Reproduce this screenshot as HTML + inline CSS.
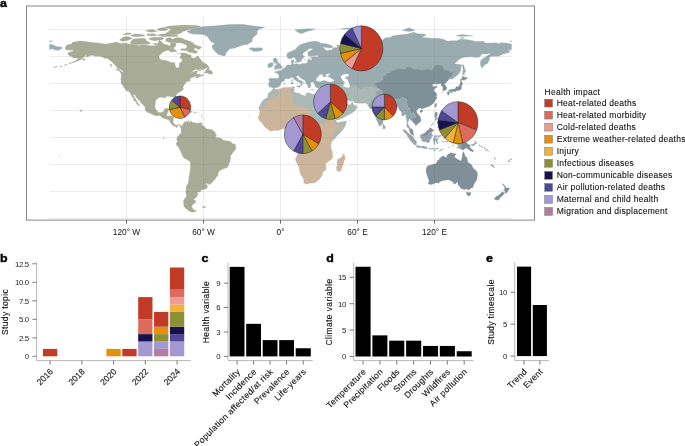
<!DOCTYPE html>
<html lang="en"><head><meta charset="utf-8"><title>Figure</title>
<style>html,body{margin:0;padding:0;background:#fff}svg{display:block}</style></head>
<body>
<svg width="685" height="446" viewBox="0 0 685 446" font-family='"Liberation Sans", sans-serif'>
<rect width="685" height="446" fill="#fff"/>
<clipPath id="cp"><rect x="26.5" y="6.0" width="508.0" height="214.1"/></clipPath>
<g clip-path="url(#cp)">
<path d="M126.50 16.00V220.1M203.50 16.00V220.1M280.50 16.00V220.1M357.50 16.00V220.1M434.50 16.00V220.1M49.50 29.50H511.50M49.50 56.50H511.50M49.50 83.50H511.50M49.50 110.50H511.50M49.50 137.50H511.50M49.50 164.50H511.50M49.50 191.50H511.50M49.50 218.50H511.50" stroke="#f6f6f6" stroke-width="1" fill="none" opacity="1"/>
<path fill="#a8ab96" stroke="#a8ab96" stroke-width="0.3" stroke-linejoin="round" d="M64.9 48.6L66.8 45.0L71.3 44.0L72.7 42.3L79.5 40.9L85.4 41.6L90.6 42.2L99.6 43.2L106.0 44.2L108.5 43.4L113.7 42.7L116.2 42.0L120.1 43.4L125.2 43.0L130.4 44.2L134.2 45.1L139.3 45.5L141.9 44.7L145.8 44.9L149.6 45.7L154.7 45.7L157.3 45.1L157.9 43.4L159.2 40.1L161.8 42.0L163.1 43.4L165.0 44.5L167.6 45.0L170.1 46.1L170.8 43.0L175.3 43.0L176.2 44.7L174.6 47.4L170.1 48.1L168.9 50.1L165.0 51.1L161.2 53.5L159.0 56.2L159.0 57.8L161.8 60.2L165.0 60.2L168.9 61.6L171.4 62.5L174.9 62.8L175.0 65.6L176.6 67.7L178.2 68.1L179.4 66.3L179.1 63.6L181.7 61.6L182.3 59.6L179.8 57.8L181.0 55.5L180.4 53.0L185.5 53.1L188.7 54.6L191.1 55.0L191.3 57.5L193.2 58.5L195.8 57.5L197.7 55.7L200.3 58.9L201.6 60.9L203.5 62.7L206.7 64.3L208.6 66.3L209.0 67.5L206.1 68.1L203.5 69.4L198.4 69.4L195.2 69.4L192.0 71.5L189.4 73.9L192.6 71.9L197.1 70.8L198.0 71.5L196.4 72.7L197.5 74.3L198.4 75.1L201.6 75.4L203.5 73.9L203.8 75.1L201.6 76.2L199.0 77.0L196.2 78.5L195.5 77.4L197.3 75.8L194.5 76.4L193.9 77.0L192.0 77.8L190.3 78.3L189.6 79.7L190.7 80.8L188.7 81.3L185.8 82.1L185.5 82.8L185.1 83.9L184.2 84.7L183.6 85.9L183.0 87.2L183.4 89.1L182.3 90.4L180.4 91.4L178.7 92.6L176.8 94.0L176.0 95.6L176.3 97.4L177.2 99.1L177.7 101.4L177.3 103.2L176.3 103.2L175.5 101.8L174.4 99.7L174.4 98.0L173.1 96.7L171.4 97.1L169.5 96.2L167.6 96.2L165.6 96.4L165.9 97.9L164.4 97.8L162.4 97.2L159.9 97.2L158.2 98.2L156.0 99.7L155.5 102.1L155.1 104.8L155.0 107.1L155.8 109.3L157.3 111.3L158.8 112.4L161.2 112.4L162.7 112.1L164.1 110.9L164.5 108.8L166.9 108.2L168.9 108.2L169.1 109.1L168.2 110.9L167.8 112.5L167.2 113.6L166.5 115.6L167.6 115.9L169.5 115.9L171.4 115.7L173.5 116.7L173.7 117.1L173.3 119.6L173.1 121.7L173.2 122.6L174.2 124.0L175.5 125.0L176.8 125.3L178.1 124.5L179.4 124.4L181.2 125.5L181.9 126.4L183.5 123.3L184.2 122.5L185.3 122.1L186.8 121.7L188.4 120.5L189.0 121.3L188.2 122.2L188.6 123.0L190.3 121.7L190.7 120.7L192.0 121.7L192.8 122.6L195.4 122.9L197.1 123.6L198.6 123.0L200.9 122.8L201.2 123.7L202.2 124.6L202.5 125.6L203.8 126.1L205.4 127.7L207.0 129.1L209.3 129.2L211.2 129.4L213.1 130.4L214.3 131.4L215.1 133.1L216.3 134.8L216.3 136.3L215.1 137.2L216.3 137.5L218.3 137.6L218.9 138.1L220.2 138.1L222.1 139.1L223.6 140.6L225.3 140.4L227.2 141.1L229.2 141.1L231.1 142.2L232.8 143.7L235.2 144.2L235.6 146.0L235.8 147.3L235.6 149.3L234.3 151.1L233.0 152.3L231.7 154.5L230.5 155.4L230.5 158.1L230.2 160.8L229.6 162.2L228.9 164.2L227.9 166.6L226.6 168.1L224.7 168.2L222.8 169.1L220.8 169.9L218.9 171.4L218.1 173.0L218.0 175.4L216.6 176.8L215.3 179.0L213.6 180.7L212.0 182.8L210.0 184.3L208.4 184.3L206.1 183.1L205.6 183.9L207.1 185.3L207.7 186.5L206.6 188.5L204.1 189.6L200.9 189.7L200.5 191.9L197.3 192.3L197.0 193.2L198.6 194.3L197.1 195.2L196.4 197.5L194.1 198.6L193.9 200.0L196.1 200.9L195.8 202.0L193.6 204.0L192.0 205.4L191.7 207.0L192.7 207.9L192.8 208.5L193.9 210.1L196.8 211.0L195.2 211.6L193.2 212.0L191.3 211.9L188.7 210.8L187.5 209.4L185.5 208.5L184.2 206.7L183.7 204.7L183.6 202.0L183.5 200.4L184.9 198.6L186.2 196.6L186.8 194.6L185.8 193.6L185.9 191.2L186.3 189.2L186.0 187.4L187.2 185.1L188.5 182.4L188.7 179.7L188.9 177.0L189.5 174.3L190.0 171.6L190.2 168.9L190.5 165.5L190.3 162.0L188.9 160.7L186.8 159.5L184.0 158.0L182.6 156.0L181.6 153.5L180.4 151.1L179.1 148.3L178.0 146.4L176.4 145.3L176.2 143.3L177.4 141.8L178.0 140.7L176.7 140.2L176.8 138.5L177.7 137.1L177.8 136.1L179.2 135.3L179.8 133.8L181.0 133.7L181.4 131.9L181.0 129.8L181.2 128.2L180.5 127.5L180.0 126.5L180.1 125.9L179.2 125.0L178.5 125.0L177.4 126.0L177.8 127.1L176.7 127.5L175.8 126.7L174.1 126.1L173.1 125.7L171.7 124.0L170.4 123.0L170.5 122.2L169.4 120.7L168.1 119.6L166.5 119.2L165.0 118.7L163.1 118.2L162.0 117.5L160.1 115.7L158.8 115.3L156.9 116.0L154.7 115.3L152.4 114.5L150.0 113.2L147.7 112.5L146.0 111.1L145.0 109.7L145.4 108.2L144.5 106.3L142.5 104.3L140.9 102.8L140.0 101.0L138.7 99.9L137.4 98.7L136.0 97.0L135.2 95.1L133.4 94.4L133.3 95.8L134.8 97.8L135.9 99.7L137.4 102.1L138.4 103.9L140.0 105.7L139.5 106.3L138.3 105.2L136.6 103.9L136.4 102.1L134.5 100.9L133.2 99.7L133.9 98.5L132.3 97.0L131.2 95.3L130.2 93.3L129.7 92.1L128.4 91.3L125.9 90.6L125.5 89.4L124.1 87.8L123.3 86.3L122.7 85.5L121.6 83.9L121.0 82.7L121.2 80.8L120.7 79.4L121.2 77.8L121.4 75.1L120.6 72.7L120.5 71.9L122.7 72.0L123.3 73.1L122.9 71.0L122.3 70.5L120.3 69.3L117.5 68.3L116.5 66.7L115.0 65.0L113.3 63.6L113.0 62.3L111.5 61.6L109.2 60.0L107.9 58.6L105.3 58.5L103.4 57.5L101.1 56.6L98.3 56.2L95.7 56.2L93.1 55.3L90.3 55.5L88.3 56.6L85.8 57.3L86.1 55.5L88.0 54.6L85.8 55.0L84.8 56.2L83.5 57.3L82.6 58.5L80.3 59.7L77.7 60.9L75.2 62.0L72.6 62.8L69.4 63.4L71.3 62.7L73.2 61.7L75.2 60.9L77.1 59.6L78.4 58.2L76.7 58.1L74.5 57.8L72.6 58.0L72.6 56.5L70.0 56.3L68.4 54.8L67.5 53.8L68.8 52.4L69.4 51.9L72.6 51.5L73.9 50.4L71.6 50.3L69.0 50.1L66.8 49.9ZM69.0 63.5L70.7 63.1L70.7 63.6L68.8 64.0ZM64.3 65.0L66.8 64.3L67.1 64.8L64.6 65.5ZM59.8 66.3L62.3 65.8L62.3 66.2L59.8 66.7ZM53.4 67.1L57.2 66.6L57.2 67.0L53.4 67.5ZM82.2 59.6L84.8 58.6L85.4 59.6L83.5 60.4ZM171.5 107.6L174.0 106.1L175.9 106.0L177.8 106.3L180.4 107.1L183.0 108.6L185.3 109.9L184.2 110.3L180.8 110.5L181.4 109.4L179.8 108.8L177.8 107.9L175.5 107.2L173.3 107.2ZM185.0 112.4L186.3 110.5L187.2 110.3L188.5 110.5L190.7 110.6L191.7 111.3L192.7 112.1L192.0 112.4L190.0 112.6L188.7 113.3L187.5 112.6L185.8 112.8ZM180.0 112.5L181.7 112.2L182.7 112.9L181.4 113.2L180.1 112.9ZM194.3 112.2L196.2 112.4L196.1 112.9L194.3 112.9ZM201.1 122.8L202.3 122.6L202.2 123.6L201.1 123.6ZM180.1 101.2L181.4 101.3L180.7 103.2L180.1 103.2L180.5 104.4L181.0 104.4ZM201.2 114.9L202.0 115.1L201.6 115.7ZM201.6 116.1L202.0 116.5L201.7 116.7ZM202.0 117.1L202.5 117.5L202.1 117.8ZM202.1 118.2L202.3 118.6L202.1 118.7ZM203.9 119.2L204.3 119.5L204.0 119.6ZM201.2 120.7L201.4 120.9L201.2 121.0ZM197.2 112.4L197.6 112.4L197.5 112.5ZM199.5 112.8L199.8 112.8L199.7 112.9ZM201.1 114.0L201.3 114.1L201.1 114.2ZM199.9 113.7L200.2 113.8L199.9 114.0ZM204.4 72.9L205.4 71.0L207.4 68.6L208.8 67.5L209.3 69.0L208.6 69.8L211.2 70.5L212.2 71.7L212.7 73.1L212.1 74.2L210.6 73.9L208.9 73.9L208.0 73.1L206.1 72.9ZM197.7 69.8L200.9 70.5L201.2 70.9L198.4 70.4ZM198.0 74.0L200.9 74.4L200.3 75.1L198.4 74.7ZM115.8 68.8L118.8 69.2L120.1 70.0L122.0 71.7L121.4 71.9L119.4 71.2L117.5 70.0L116.2 69.4ZM109.8 64.2L111.4 64.3L112.1 66.7L110.7 65.9ZM176.6 37.7L181.7 38.0L184.2 39.6L188.1 40.8L192.0 42.0L193.9 44.0L197.1 45.7L200.9 46.7L201.6 47.4L199.0 49.4L197.1 48.8L194.5 47.7L193.9 49.4L197.1 51.5L197.5 52.6L195.2 53.5L192.6 52.8L189.4 52.3L186.2 50.4L183.0 50.4L180.4 49.7L181.0 48.8L185.5 48.8L186.8 47.4L186.8 45.4L184.2 44.0L180.4 42.7L179.1 43.0L175.9 42.7L172.1 42.7L168.9 42.3L166.3 41.3L165.3 40.0L166.9 38.0L170.8 37.7L172.1 39.3ZM130.4 42.0L132.9 39.3L135.5 38.8L139.3 38.6L145.1 38.4L146.4 40.7L150.2 42.7L149.6 44.0L145.8 44.3L141.9 44.2L135.5 44.7L131.0 44.0ZM119.4 40.1L122.0 37.7L125.2 36.6L129.7 37.0L132.3 38.2L129.1 40.0L125.9 40.8L122.7 41.3ZM165.0 33.9L168.9 31.2L171.4 29.2L163.7 27.2L170.1 26.1L184.2 25.0L197.1 25.4L200.9 26.5L197.1 27.8L190.7 28.9L186.8 30.3L183.0 31.5L180.4 33.2L177.8 34.3L171.4 34.2ZM157.3 29.2L162.4 27.6L168.2 28.9L166.3 30.5L161.2 30.8L157.3 29.9ZM157.3 35.3L162.4 33.8L171.4 34.6L177.8 35.1L177.2 36.5L170.1 36.6L162.4 36.4ZM130.4 35.3L135.5 34.1L140.6 34.2L144.5 34.9L144.5 36.1L139.3 36.4L134.2 36.8ZM149.6 38.0L154.7 37.3L161.2 37.2L164.4 38.0L162.4 39.7L158.6 40.0L156.0 40.7L152.8 40.4L149.0 39.1ZM168.9 49.0L172.7 47.8L175.9 50.4L177.2 51.5L174.0 51.7L170.8 51.9L168.9 50.8ZM147.0 33.9L154.7 33.8L157.3 35.5L152.2 36.1L147.0 35.3ZM122.7 34.2L127.8 32.8L131.6 33.2L129.1 34.6L123.9 34.7ZM152.8 44.0L156.0 43.0L157.9 44.0L156.0 44.7ZM145.8 30.5L152.2 29.5L157.3 31.2L152.2 32.2L147.0 31.6ZM177.8 37.7L183.0 38.4L180.4 39.1L177.2 38.8ZM177.8 53.1L178.7 53.0L178.5 53.9L177.6 53.8ZM202.0 207.1L204.8 206.5L206.3 206.9L204.1 207.8ZM163.1 137.7L164.0 137.6L163.8 138.5L163.2 138.5ZM80.3 109.9L81.6 110.3L81.5 111.3L80.4 111.4ZM77.5 108.0L78.1 108.2L78.0 108.6Z"/>
<path fill="#9bacb0" stroke="#9bacb0" stroke-width="0.3" stroke-linejoin="round" d="M186.8 31.6L193.2 28.5L203.5 26.5L216.3 25.8L229.2 24.6L242.0 24.3L252.3 25.8L265.1 27.2L258.7 29.2L256.8 31.9L257.4 33.9L254.8 35.9L252.3 38.6L252.3 41.3L250.3 42.7L247.1 44.6L242.0 45.3L238.2 46.7L234.3 48.2L229.8 48.8L227.9 50.8L226.0 52.8L225.3 55.5L224.0 56.3L221.5 55.3L218.3 54.6L216.3 52.8L214.4 50.8L212.5 48.1L211.8 46.1L215.1 43.4L211.2 42.0L209.9 40.0L207.4 36.6L203.5 34.6L197.1 34.3L192.0 33.9L189.4 32.8ZM249.3 48.6L251.6 47.6L254.8 48.1L258.7 47.7L261.2 47.8L263.0 49.0L261.2 50.4L257.4 51.5L254.2 51.3L251.6 50.8L252.3 49.7L249.7 49.6ZM273.3 88.6L272.3 87.5L271.0 87.0L269.1 87.2L269.2 85.4L268.3 84.8L269.1 82.9L269.3 80.6L268.6 79.1L270.2 78.2L273.1 78.3L275.6 78.5L278.2 78.6L279.0 77.0L279.1 75.4L277.7 73.7L276.9 73.1L274.7 72.5L274.5 71.7L276.6 71.3L278.4 71.5L278.2 70.1L279.0 70.5L280.8 70.4L282.4 69.4L282.7 68.5L284.4 67.9L285.6 67.1L286.5 65.6L288.2 65.0L289.5 65.0L291.4 64.8L291.7 63.6L291.2 62.3L291.0 60.5L292.7 60.0L294.1 59.3L293.7 60.9L294.4 61.2L293.3 62.3L292.9 63.2L294.4 64.3L295.9 64.0L297.8 63.8L298.9 64.4L301.0 63.9L304.0 63.2L305.5 63.8L306.2 63.1L307.5 62.5L307.5 60.5L308.3 59.4L309.5 59.3L310.3 60.2L311.7 60.0L311.8 58.5L310.7 57.8L310.7 57.3L313.2 56.7L316.4 56.9L319.3 56.3L317.1 55.5L313.9 55.7L310.0 56.3L308.1 55.4L307.8 53.8L307.8 52.1L309.4 51.2L311.9 49.7L313.0 48.8L311.0 48.4L308.7 48.8L307.8 50.1L305.5 51.5L303.3 52.8L302.6 54.8L303.0 55.5L304.6 56.3L303.6 57.7L301.9 58.9L301.5 60.7L300.8 61.5L298.9 62.1L297.1 62.4L296.7 61.2L295.6 59.6L294.9 57.7L294.0 56.9L292.7 57.7L290.8 58.8L288.8 58.8L287.6 57.8L286.9 56.2L286.9 54.2L287.3 53.2L289.5 52.1L291.4 51.3L293.3 50.5L295.3 49.4L296.5 48.1L297.8 46.5L299.1 45.4L301.0 44.3L303.6 43.4L306.2 42.7L309.4 41.9L313.2 41.2L316.4 41.3L319.6 42.3L320.3 43.0L322.9 43.5L326.7 43.8L331.8 45.7L333.4 47.0L331.8 47.8L329.3 48.0L325.4 47.3L322.9 47.0L324.8 48.8L325.2 50.1L328.0 50.8L329.3 50.1L331.8 50.0L332.5 48.8L334.4 47.6L337.0 47.8L337.2 46.1L336.7 44.7L339.5 45.4L340.2 46.9L342.1 45.9L344.7 45.1L348.5 44.6L350.4 45.0L353.7 44.6L356.2 44.2L358.1 43.1L363.3 43.8L366.5 44.3L368.4 45.1L369.1 44.0L366.5 43.1L366.5 41.3L368.4 39.3L370.3 38.2L373.5 38.9L373.8 40.9L373.5 43.4L374.8 44.7L373.5 46.7L372.9 47.7L375.5 47.0L376.8 45.4L376.1 43.4L375.2 41.3L376.8 39.3L380.0 39.7L383.2 40.0L384.5 38.0L390.9 37.3L392.2 35.9L398.6 34.9L406.3 34.2L414.0 32.3L417.8 33.7L424.2 33.9L426.2 35.3L421.7 37.3L425.5 37.7L431.9 38.2L438.4 38.2L443.5 39.3L446.1 40.7L448.6 41.3L451.2 40.7L456.3 40.8L460.2 39.3L466.6 39.6L473.0 40.7L475.6 41.5L483.3 41.3L485.8 43.1L491.0 43.1L496.1 42.8L499.3 44.0L500.0 42.7L506.4 43.0L511.5 44.0L511.5 49.4L509.6 50.0L508.3 49.9L510.2 52.1L507.7 52.8L503.8 53.8L500.0 55.5L498.7 56.2L493.5 56.3L490.3 56.5L489.0 58.9L490.1 59.3L488.4 61.2L488.1 62.9L485.8 64.3L483.9 65.6L482.0 68.1L481.3 67.0L480.3 64.3L480.3 61.6L482.0 59.2L484.6 57.5L487.8 55.5L491.0 52.8L486.5 53.9L482.0 53.9L479.4 56.9L475.6 57.5L471.7 56.7L466.6 57.1L462.7 57.5L458.9 59.6L456.3 62.3L454.4 63.5L457.0 64.3L460.2 64.3L461.8 65.6L460.8 67.7L460.8 69.7L460.2 72.0L458.2 74.4L455.7 76.4L454.4 77.8L451.8 79.3L449.9 78.9L448.2 80.1L444.8 81.8L439.6 83.2L431.9 84.5L421.7 85.9L408.8 87.2L396.0 88.6L383.2 89.9L376.8 89.9L372.9 91.3L360.1 92.6L347.2 89.9L340.8 89.9L337.0 89.9L331.8 89.9L327.0 88.7L326.7 87.7L324.8 87.7L322.9 88.5L321.6 87.9L319.8 87.5L318.4 88.3L316.4 87.7L315.5 86.6L314.5 85.2L315.2 84.1L314.1 83.9L314.1 83.2L313.9 82.3L311.3 82.1L311.0 83.2L309.8 82.7L310.4 84.3L311.3 85.6L310.3 86.0L310.1 87.9L309.2 87.9L308.3 87.5L307.7 86.2L307.5 84.8L306.4 83.7L305.4 82.5L305.5 81.0L304.2 80.0L302.3 79.1L300.4 77.9L299.5 76.4L298.1 75.6L296.4 76.0L296.4 77.5L298.0 78.5L298.7 80.0L301.0 80.6L302.3 81.8L304.2 82.9L304.0 83.5L302.3 82.5L301.8 83.7L302.4 84.5L301.7 85.4L300.6 86.0L300.8 85.0L301.2 84.1L300.5 83.2L299.1 82.3L297.2 81.6L295.9 80.6L294.6 79.8L293.8 78.6L293.1 77.7L291.8 77.3L290.1 78.1L288.5 79.0L286.7 78.6L285.0 78.7L284.5 80.0L284.6 80.6L283.2 81.4L281.5 82.1L280.1 83.9L280.8 84.8L279.6 86.0L278.4 87.0L277.5 87.5L274.9 87.7L273.7 88.5ZM49.5 44.0L53.4 45.0L57.2 46.7L61.0 47.0L62.6 48.0L59.8 49.4L58.5 50.4L54.6 49.7L52.1 48.8L49.5 49.4ZM509.6 41.1L511.5 40.7L511.5 41.5L509.8 41.6ZM49.5 40.7L52.7 40.9L52.1 41.5L49.5 41.5ZM273.8 69.7L276.0 69.3L279.2 68.8L282.2 68.1L281.4 67.7L282.7 66.2L280.9 65.6L280.2 64.3L278.6 62.9L277.9 61.7L276.6 61.6L277.9 59.6L276.0 59.3L276.4 58.1L274.1 58.1L273.1 59.6L273.4 61.3L274.3 62.3L274.1 63.2L276.0 63.1L276.6 64.3L276.6 65.2L274.7 65.2L275.0 66.6L273.8 67.3L276.0 67.8L274.7 68.3ZM267.7 67.5L269.6 67.5L272.4 66.7L272.8 65.2L273.4 63.6L272.2 62.7L270.2 62.7L269.6 63.6L267.7 64.0L268.3 65.4L267.7 66.7ZM294.6 29.9L301.0 29.2L308.7 28.8L315.2 29.1L311.3 30.5L307.5 31.2L304.2 32.6L301.7 33.7L298.5 32.6L295.9 30.8ZM346.6 40.4L348.5 38.6L351.1 36.6L354.9 34.9L361.4 33.9L368.4 33.4L365.2 34.9L357.5 36.6L354.3 38.6L353.0 40.9L349.8 41.6ZM402.4 30.3L408.8 27.8L415.3 30.5L408.8 31.6ZM340.8 28.8L347.2 28.1L357.5 27.8L354.9 28.9L344.7 29.2ZM456.3 35.5L462.7 34.6L467.9 35.3L473.0 35.9L465.3 36.2L458.9 36.4ZM462.7 37.6L464.7 38.0L461.5 38.4L460.2 38.0ZM342.7 43.4L344.7 43.8L343.4 44.5L342.5 44.0ZM462.7 63.9L464.0 65.6L464.4 68.3L465.9 71.0L464.0 73.7L464.7 74.8L462.7 75.1L462.7 72.4L463.0 69.7L462.5 67.0L462.7 65.0ZM296.5 85.9L300.4 85.6L300.0 87.5L297.2 86.8ZM291.2 82.1L292.7 81.7L292.9 83.9L292.1 84.5L291.3 84.1ZM291.7 79.8L292.7 79.4L292.4 81.2L291.7 80.8ZM310.7 89.3L314.1 89.7L311.9 89.9ZM322.0 89.9L322.9 89.4L324.8 89.1L324.1 89.9L322.9 90.5ZM283.6 83.7L284.9 83.3L284.6 84.1ZM294.6 62.0L296.5 61.6L296.3 62.9L294.9 62.8ZM303.9 60.2L304.9 59.0L304.6 60.0ZM308.7 58.2L310.0 58.1L309.4 58.9Z"/>
<path fill="#cbb59d" stroke="#cbb59d" stroke-width="0.3" stroke-linejoin="round" d="M272.9 88.9L273.7 88.7L276.6 89.5L277.7 89.8L279.2 89.0L281.1 88.3L284.4 87.4L286.9 87.5L289.5 87.2L291.5 87.4L293.3 86.8L294.6 87.2L294.0 88.6L294.4 89.9L293.3 91.0L294.6 92.4L296.5 92.9L299.8 93.6L300.4 94.7L303.0 95.5L304.9 96.3L306.2 95.3L306.2 93.6L308.1 92.8L310.0 93.2L312.6 94.4L315.2 94.9L317.7 95.5L320.3 94.7L322.0 95.1L322.3 96.8L322.5 98.3L323.7 100.1L324.8 102.1L326.1 104.8L326.3 106.1L327.9 107.5L328.2 108.8L328.2 110.7L329.9 112.9L330.9 115.6L331.8 116.9L333.4 117.6L334.9 119.4L335.9 120.3L336.1 121.5L337.6 123.0L340.8 122.1L343.4 121.8L346.2 121.1L346.1 123.0L345.1 125.7L343.4 128.4L341.5 131.1L339.5 133.3L337.0 135.6L335.0 137.9L333.9 139.5L332.2 140.8L331.4 142.9L330.6 144.6L330.9 146.4L331.2 148.7L331.6 150.7L332.5 151.6L332.6 154.1L332.7 156.8L332.0 158.8L329.9 160.6L328.0 161.5L326.1 163.5L325.2 164.2L325.8 166.2L326.1 168.9L325.7 170.3L323.5 171.4L322.5 172.2L322.7 173.6L322.2 175.7L320.7 177.3L319.4 179.0L317.7 180.8L316.2 181.9L313.9 183.0L312.6 183.1L310.0 183.2L308.1 183.6L306.2 184.2L304.6 183.5L304.1 183.0L303.6 181.5L304.0 180.0L302.8 177.7L301.8 175.8L300.4 174.1L299.8 171.6L299.1 168.9L299.0 167.2L297.8 164.9L296.5 162.2L295.6 160.4L295.6 158.5L296.4 156.8L297.8 154.1L298.2 152.0L297.4 149.3L296.5 146.4L296.3 145.3L295.6 143.5L294.6 142.2L292.9 140.3L292.1 138.5L292.4 136.8L292.8 135.2L293.1 133.4L292.8 131.9L291.8 131.1L289.5 131.3L288.2 131.4L286.9 129.4L286.1 128.7L284.0 128.6L282.0 129.0L280.5 129.5L278.6 130.4L276.6 130.4L274.7 130.2L272.8 130.7L270.9 131.3L269.0 130.2L266.6 128.4L265.1 127.1L263.6 125.7L263.2 124.4L261.6 122.8L261.0 121.7L259.1 120.5L258.9 119.0L258.0 117.4L259.3 115.6L259.6 112.9L259.7 110.9L259.3 109.5L258.7 108.8L260.0 105.5L261.9 102.1L263.8 99.8L265.7 98.7L267.7 97.4L268.1 96.0L267.9 94.7L269.0 92.9L270.9 91.7L272.2 90.6ZM343.8 153.4L344.9 156.8L345.2 158.5L344.3 160.1L343.4 163.5L342.1 167.6L340.8 170.9L338.5 171.6L337.0 170.7L336.2 167.6L337.4 164.9L337.0 162.2L337.4 159.5L339.9 158.4L341.8 156.8L343.0 155.0ZM291.4 132.2L291.9 132.3L291.7 132.9ZM248.0 114.1L248.5 114.1L248.4 114.5ZM250.1 116.5L250.5 116.7L250.2 117.1ZM351.5 165.4L352.1 165.7L351.7 166.1ZM354.2 164.3L354.7 164.6L354.3 164.9ZM336.1 152.7L336.3 153.3L335.9 153.3Z"/>
<path fill="#aab9b3" stroke="#aab9b3" stroke-width="0.3" stroke-linejoin="round" d="M258.7 108.4L260.0 105.5L261.9 102.1L263.8 99.8L265.7 98.7L267.7 97.4L268.1 96.0L267.9 94.7L269.0 92.9L270.9 91.7L272.2 90.6L272.9 88.9L273.7 88.7L276.6 89.5L277.7 89.8L278.3 91.3L279.0 93.3L276.6 94.7L275.9 95.6L273.4 97.0L269.3 98.5L269.3 100.3L269.3 102.1L265.1 102.1L265.1 105.6L263.8 106.1L263.8 108.4ZM291.5 87.4L293.3 86.8L294.6 87.2L294.0 88.6L294.4 89.9L293.3 91.0L294.6 92.4L296.5 92.9L299.8 93.6L300.4 94.7L303.0 95.5L304.9 96.3L306.2 95.3L306.2 93.6L308.1 92.8L310.0 93.2L312.6 94.4L315.2 94.9L317.7 95.5L320.3 94.7L322.0 95.1L324.4 94.9L325.2 93.3L325.5 92.4L326.2 90.6L326.6 89.3L327.0 88.7L327.6 87.8L329.3 87.5L331.8 87.5L334.9 87.0L338.0 87.1L337.7 86.6L337.2 85.2L337.5 83.6L338.2 83.9L340.2 84.7L342.1 83.9L343.3 85.4L344.0 86.6L346.0 87.5L347.9 87.8L349.8 86.7L351.7 85.9L353.9 85.6L356.9 86.6L358.8 87.8L359.0 89.1L361.4 89.4L363.3 88.2L364.6 86.8L365.8 86.7L367.5 87.0L367.8 87.2L369.7 87.0L370.6 86.2L372.3 85.9L372.3 87.5L376.6 87.0L377.4 87.5L380.3 89.3L379.3 90.6L375.5 91.3L376.1 93.3L376.1 95.3L374.2 97.0L372.3 99.4L370.3 100.7L371.0 102.8L368.0 105.1L366.5 103.7L365.8 102.9L363.3 103.2L360.1 103.3L359.4 103.3L356.2 102.9L354.0 102.5L353.4 100.7L351.1 101.2L349.2 101.0L347.2 99.8L346.0 98.6L345.3 96.7L343.4 96.3L342.7 96.8L342.1 97.4L342.7 99.0L344.0 100.5L344.9 101.4L345.3 103.0L346.2 102.1L346.6 103.0L346.3 104.3L347.9 104.7L349.8 104.7L351.5 103.0L352.6 101.8L353.0 103.4L353.7 104.8L355.8 105.5L357.2 106.8L355.8 109.5L354.7 110.9L353.7 111.8L351.7 113.3L349.8 114.2L347.5 115.3L344.7 116.9L342.7 118.3L340.2 119.1L338.2 119.9L336.3 120.1L335.7 118.6L335.4 116.3L335.0 114.5L333.8 112.6L332.5 110.5L330.8 108.4L329.9 106.1L328.4 104.1L327.3 102.1L325.8 99.4L325.3 97.4L324.6 99.4L324.4 99.8L323.2 98.7L322.3 96.8L322.5 98.3L323.7 100.1L324.8 102.1L326.1 104.8L326.3 106.1L327.9 107.5L328.2 108.8L328.2 110.7L329.9 112.9L328.0 114.2L327.3 116.9L327.1 117.9L326.7 120.1L325.4 122.3L324.4 123.0L324.1 124.4L322.9 123.7L321.6 121.0L319.0 123.7L316.4 124.4L313.9 123.3L311.9 125.3L310.7 125.0L310.7 123.7L309.4 122.3L309.1 119.6L308.7 118.3L310.0 116.0L311.3 116.0L311.3 110.9L301.0 105.6L299.8 106.1L298.7 106.7L295.9 105.5L295.3 104.4L293.3 103.7L292.7 101.7L293.3 100.7L293.1 98.7L292.7 96.4L292.1 94.0L290.3 92.0L291.2 90.2L291.2 88.3ZM335.9 120.3L336.1 121.5L337.6 123.0L340.8 122.1L343.4 121.8L346.2 121.1L346.1 123.0L345.1 125.7L343.4 128.4L341.5 131.1L339.5 133.3L337.0 135.6L335.0 137.9L333.9 139.5L333.1 138.3L333.1 133.4L334.4 131.5L336.3 130.7L338.2 130.4L342.1 126.4L338.2 125.3L335.7 124.4L335.3 122.8L334.1 122.1L334.8 120.3ZM348.9 120.2L350.4 120.3L349.3 120.6Z"/>
<path fill="#7f9098" stroke="#7f9098" stroke-width="0.3" stroke-linejoin="round" d="M448.2 80.1L446.9 81.8L445.4 83.2L444.1 83.9L445.2 85.2L446.6 87.2L446.7 88.9L446.1 89.8L444.1 90.4L442.7 90.8L442.8 89.3L442.8 87.5L443.2 86.6L441.6 86.2L440.9 85.2L441.3 83.9L440.1 83.2L438.4 83.7L436.4 84.7L437.1 82.5L435.8 82.0L433.9 83.5L431.9 84.4L433.0 85.9L433.2 86.8L435.4 86.2L437.7 86.8L435.8 87.9L434.5 88.9L433.6 90.2L435.1 92.0L436.8 94.3L436.9 95.5L435.1 96.3L437.1 97.0L436.4 99.0L435.1 100.5L434.1 102.4L432.6 104.0L431.0 105.3L429.4 106.3L427.2 107.0L425.5 107.5L423.6 108.2L422.2 108.6L422.1 109.8L421.4 108.3L419.7 107.9L419.1 108.2L417.6 109.1L416.3 111.1L417.2 113.2L418.5 114.9L420.0 116.3L420.8 119.0L420.8 121.0L420.1 122.1L418.2 123.2L417.4 124.4L415.5 125.5L415.0 124.0L414.6 123.2L413.3 122.8L412.6 121.4L411.9 119.0L412.7 117.9L415.3 117.9L416.0 116.3L415.0 114.9L414.9 113.6L413.3 112.4L411.4 112.9L410.1 113.6L410.4 110.9L409.5 109.8L410.4 108.2L408.8 108.2L407.6 106.8L407.3 104.8L405.8 104.8L406.9 102.4L407.2 100.1L405.5 99.0L403.7 97.6L401.1 98.0L398.6 99.7L396.0 99.1L394.7 100.1L393.4 99.5L390.9 99.4L388.3 98.2L385.7 96.4L384.5 96.3L381.9 95.1L381.5 93.3L382.5 92.6L381.6 90.6L380.3 89.3L377.4 87.5L376.6 87.0L376.8 86.6L375.1 84.0L375.2 83.5L378.0 82.7L380.6 81.8L383.4 80.2L383.8 79.1L383.2 76.4L386.4 75.8L387.0 73.5L390.2 73.6L390.5 71.9L392.5 70.9L393.2 70.8L397.3 69.0L401.1 69.0L405.6 69.7L406.9 67.0L411.4 67.7L412.7 69.3L417.8 69.4L421.7 70.8L426.8 69.4L430.3 70.0L431.7 70.4L434.5 67.7L435.1 65.4L439.0 65.0L442.2 66.1L444.1 70.0L448.2 71.2L450.5 72.7L453.4 72.0L451.2 76.2L448.9 76.7L448.2 79.8ZM409.0 128.4L409.3 130.0L409.9 131.8L410.5 133.3L412.0 134.5L413.3 135.3L414.2 135.3L413.3 133.6L413.2 131.8L412.7 129.9L411.5 128.8L410.1 129.4ZM420.0 111.3L421.0 110.2L422.8 110.2L422.3 111.8L421.0 112.6L420.0 112.1ZM436.4 103.2L436.9 103.7L436.2 106.1L435.5 107.5L434.8 106.4L434.8 105.1L435.8 103.4ZM461.5 81.3L462.1 82.5L462.7 83.9L461.5 85.5L461.5 87.5L461.2 89.0L459.9 89.9L458.6 90.4L456.3 90.5L456.1 90.9L454.8 92.0L453.8 90.9L451.8 90.9L449.9 91.3L448.6 91.3L448.6 90.6L450.5 89.4L452.5 89.3L455.0 89.0L455.9 87.2L456.7 86.6L458.2 86.8L459.5 85.2L460.2 83.5L460.2 82.3L460.8 81.6ZM448.5 91.4L449.5 92.2L449.6 93.3L448.6 94.9L447.6 95.1L447.6 93.3L446.9 92.4ZM450.5 91.6L452.5 90.9L453.4 91.6L452.5 92.1L451.2 92.9L450.4 92.4ZM460.4 81.2L460.6 78.9L462.1 78.7L462.3 75.9L464.0 77.1L467.0 77.4L467.2 78.7L465.3 79.3L464.3 80.5L462.5 79.7L461.2 79.8L461.5 80.8ZM442.5 92.0L443.4 92.0L443.0 92.4ZM435.1 112.2L437.3 112.4L437.3 114.9L436.4 116.3L436.7 118.0L438.4 118.4L439.6 120.1L439.0 119.6L437.7 119.0L435.8 118.7L435.3 117.6L434.5 116.3L434.9 115.2ZM437.1 127.7L439.0 125.7L441.3 124.1L442.6 125.7L442.8 128.0L441.6 129.5L440.9 129.1L439.6 128.4L439.0 126.8L437.3 127.7ZM437.1 121.3L438.4 121.7L439.6 122.3L441.6 120.3L441.6 122.3L440.7 123.4L439.0 124.4L437.7 123.7L437.1 122.6ZM431.0 126.0L433.9 122.6L434.1 121.9L431.9 124.6ZM434.9 119.1L436.4 119.4L436.0 120.6L435.5 120.3ZM426.9 166.6L429.4 165.3L431.3 165.0L433.2 164.2L435.8 163.7L437.3 161.5L437.3 160.1L439.0 160.6L439.1 159.1L440.3 157.9L441.9 156.4L443.5 156.0L445.0 157.2L446.7 157.3L447.1 155.4L448.2 153.9L450.5 153.5L450.7 152.6L453.8 153.7L456.1 153.7L455.0 155.4L454.4 157.2L456.3 158.5L458.9 160.1L460.8 161.0L461.8 158.8L462.3 156.1L462.3 154.1L463.4 151.6L464.7 154.5L465.0 156.6L467.0 157.4L467.2 159.5L468.1 162.6L470.2 163.8L471.7 164.9L472.6 167.2L474.0 168.9L476.2 170.7L477.1 172.3L477.5 175.3L476.9 178.4L476.2 180.8L474.7 182.8L473.4 185.5L473.0 187.6L470.4 188.4L468.4 190.0L466.2 188.8L464.7 189.6L462.1 188.9L460.2 187.8L459.5 185.8L457.9 185.3L458.2 184.2L457.3 181.8L457.3 181.2L456.3 182.8L455.0 184.2L454.0 183.8L452.7 181.8L450.5 180.4L448.6 179.7L446.1 180.0L442.2 180.8L439.6 181.8L439.0 183.0L435.8 182.8L433.9 183.5L431.9 184.4L429.4 184.3L428.1 183.5L429.0 181.8L429.0 180.1L428.1 178.1L427.4 175.7L426.4 173.0L426.0 170.3L426.4 168.2ZM466.2 192.1L468.5 192.7L470.7 192.3L470.8 194.2L469.8 195.5L468.5 196.1L467.2 195.0L466.8 193.6ZM502.1 183.6L504.1 185.1L505.7 186.9L506.4 188.0L508.9 188.0L509.6 188.2L508.7 190.1L507.7 190.5L507.4 191.9L505.5 193.4L504.8 193.0L505.3 191.5L504.4 190.5L503.5 190.3L504.7 189.6L504.8 187.8L504.2 186.2L502.5 184.4ZM502.1 191.9L504.1 192.8L504.1 193.8L502.5 195.5L502.1 196.3L500.3 197.0L499.7 199.0L498.0 200.1L496.5 200.1L494.3 199.3L494.6 198.2L496.4 196.6L498.7 195.2L500.3 193.9L501.5 192.3ZM491.0 164.3L492.9 165.5L494.7 167.2L494.2 167.4L492.3 166.4L491.0 165.0ZM508.0 160.7L509.6 160.8L509.6 161.8L508.2 161.6ZM510.2 159.2L511.5 159.1L511.2 159.9L510.0 160.0ZM494.2 157.4L495.1 157.7L494.9 158.4L494.3 158.1ZM495.2 158.8L496.0 159.2L495.5 159.6ZM481.3 146.2L482.6 147.1L482.2 147.3L481.3 146.6ZM483.9 147.5L485.6 148.4L485.3 148.8L483.9 148.0ZM485.3 149.8L486.9 150.2L486.6 150.6L485.4 150.2ZM486.7 148.5L487.5 149.8L487.1 150.0ZM487.5 151.1L488.8 151.5L488.4 151.8ZM479.0 144.6L480.4 145.8L480.2 146.4L479.2 145.3ZM58.7 155.4L59.5 155.4L59.4 155.8ZM466.1 118.8L466.5 119.1L466.2 119.4Z"/>
<path fill="#95a7ad" stroke="#95a7ad" stroke-width="0.3" stroke-linejoin="round" d="M368.0 105.1L369.1 107.2L370.7 109.1L372.9 108.6L373.7 107.5L373.9 109.5L373.9 111.5L374.6 114.2L375.2 116.3L376.1 118.3L376.6 119.9L377.8 122.1L378.4 124.0L379.3 125.9L380.0 126.3L380.9 125.3L381.9 124.6L382.9 123.3L383.0 121.0L383.6 119.4L383.3 116.9L384.5 115.7L386.1 114.8L387.7 113.2L389.6 111.1L391.5 109.9L392.2 108.4L393.7 107.9L395.4 107.8L396.6 107.1L397.9 106.7L398.6 108.4L399.0 109.3L400.5 110.9L401.5 112.2L401.8 114.9L401.5 115.6L403.1 115.9L404.3 114.9L405.2 114.5L405.9 115.6L406.0 117.6L406.7 119.6L407.0 121.7L406.9 123.7L406.7 125.7L406.7 126.5L407.9 127.7L409.0 128.4L410.1 129.4L411.5 128.8L410.1 127.9L409.3 127.1L408.8 125.3L407.9 124.6L407.8 122.6L408.6 121.0L408.8 119.1L410.1 119.2L410.1 120.1L411.8 120.7L412.6 121.4L411.9 119.0L412.7 117.9L415.3 117.9L416.0 116.3L415.0 114.9L414.9 113.6L413.3 112.4L411.4 112.9L410.1 113.6L410.4 110.9L409.5 109.8L410.4 108.2L408.8 108.2L407.6 106.8L407.3 104.8L405.8 104.8L406.9 102.4L407.2 100.1L405.5 99.0L403.7 97.6L401.1 98.0L398.6 99.7L396.0 99.1L394.7 100.1L393.4 99.5L390.9 99.4L388.3 98.2L385.7 96.4L384.5 96.3L381.9 95.1L381.5 93.3L382.5 92.6L381.6 90.6L380.3 89.3L379.3 90.6L375.5 91.3L376.1 93.3L376.1 95.3L374.2 97.0L372.3 99.4L370.3 100.7L371.0 102.8ZM382.9 124.1L384.7 125.7L385.5 127.3L385.1 128.4L383.8 129.2L383.0 128.4L382.9 126.4ZM402.8 129.6L405.6 130.2L407.2 132.1L409.2 133.8L410.8 134.9L412.7 136.3L413.7 137.9L414.6 139.6L416.5 141.2L416.3 145.0L414.7 145.0L413.3 143.7L411.8 142.3L410.1 140.6L409.2 138.4L407.6 136.5L406.9 134.8L405.0 132.9L403.3 130.9ZM415.6 146.4L417.2 145.3L419.7 146.1L422.3 146.4L423.0 145.8L425.1 146.6L427.2 147.6L427.4 148.8L424.2 148.4L421.0 147.7L418.5 147.6L416.9 147.1ZM420.4 135.2L421.2 134.5L423.0 135.0L423.3 133.7L425.5 132.9L426.8 131.0L428.7 129.8L430.3 127.7L431.5 128.8L433.5 130.2L432.2 131.4L431.3 131.5L431.7 133.4L433.0 135.8L431.7 136.1L431.3 138.3L430.0 139.6L429.6 141.9L427.7 142.7L425.5 141.7L423.6 141.8L421.9 141.0L421.7 139.2L420.6 137.9L420.4 136.5Z"/>
<path fill="#7f9098" stroke="#7f9098" stroke-width="0.3" stroke-linejoin="round" d="M421.2 134.5L423.0 135.0L423.3 133.7L425.5 132.9L426.8 131.0L428.7 129.8L430.3 127.7L431.5 128.8L433.5 130.2L432.2 131.4L431.3 131.5L429.1 131.4L428.1 133.4L426.8 135.2L424.9 135.2L423.0 135.8L421.2 135.4Z"/>
<path fill="#95a7ad" stroke="#95a7ad" stroke-width="0.3" stroke-linejoin="round" d="M434.2 136.1L435.5 135.4L438.4 135.8L440.9 135.0L440.3 136.7L438.4 136.7L435.8 136.7L434.5 137.9L436.4 138.5L438.7 138.3L438.1 139.4L436.7 139.8L437.7 141.7L438.4 143.3L437.5 143.7L436.4 142.6L435.8 140.8L434.9 141.1L435.0 143.3L434.9 144.6L433.9 144.6L433.9 141.9L433.0 140.8L433.6 138.8L434.2 137.2ZM428.7 148.1L430.7 148.4L433.2 148.3L435.8 148.5L438.4 148.3L438.4 148.9L435.8 149.2L433.2 149.1L430.7 149.3L429.4 149.2ZM439.0 151.1L440.9 149.6L443.5 148.5L442.8 149.3L440.3 151.0ZM433.2 149.9L435.5 150.6L434.8 151.1L433.2 150.4ZM444.1 134.8L444.8 134.4L445.7 135.8L445.2 137.9L444.5 136.5ZM442.2 141.4L443.7 141.7L443.5 142.3L442.2 142.1ZM444.8 141.1L448.4 141.8L446.1 141.9L444.8 141.7ZM452.7 144.6L453.5 145.3L453.1 146.4L452.6 145.6ZM448.6 147.3L449.5 147.1L449.3 148.0ZM448.6 138.3L450.5 137.7L452.5 138.3L452.7 140.2L453.8 141.7L455.7 140.2L457.6 139.4L461.5 140.7L464.0 141.8L465.9 142.3L467.9 144.2L469.8 145.3L470.2 146.2L469.2 146.4L470.2 148.0L471.7 149.3L473.6 151.1L473.0 151.5L470.4 150.8L468.5 149.1L465.9 147.6L464.7 148.7L463.4 149.6L461.5 149.5L458.9 148.0L457.6 148.4L457.2 146.9L458.5 146.4L457.6 144.6L455.0 143.3L452.5 142.5L450.9 142.6L449.9 141.1L451.8 140.6L449.9 140.2L448.6 139.1Z"/>
<path fill="#7f9098" stroke="#7f9098" stroke-width="0.3" stroke-linejoin="round" d="M461.5 140.7L464.0 141.8L465.9 142.3L467.9 144.2L469.8 145.3L470.2 146.2L469.2 146.4L470.2 148.0L471.7 149.3L473.6 151.1L473.0 151.5L470.4 150.8L468.5 149.1L465.9 147.6L464.7 148.7L463.4 149.6L461.5 149.5ZM471.1 144.8L473.0 144.6L474.9 142.9L476.0 143.0L474.9 144.6L473.0 145.7L471.1 145.3ZM474.0 140.7L475.6 141.5L476.9 143.3L476.5 143.4L474.9 141.5Z"/>
<path fill="#fff" d="M316.4 80.5L316.3 78.9L317.3 77.5L318.6 76.2L319.9 74.6L321.6 74.4L323.2 75.1L322.3 75.9L323.5 77.1L325.4 76.7L327.3 76.3L328.6 76.9L330.6 77.8L331.8 78.7L333.8 79.8L333.9 81.0L331.8 81.8L329.3 81.8L327.3 81.6L325.4 80.5L322.9 80.5L320.9 81.4L318.4 81.6L316.4 81.0ZM325.4 75.0L328.0 73.7L330.6 73.6L329.3 75.1L328.0 75.9L327.1 75.9L325.8 75.8ZM341.5 75.6L343.4 74.4L346.0 73.9L348.5 74.0L348.5 76.0L346.3 77.0L345.1 77.4L346.0 78.9L347.9 79.8L347.9 81.2L349.2 82.5L348.5 83.2L349.5 84.5L349.8 86.7L349.5 87.2L347.2 87.7L345.3 87.1L343.4 86.4L343.3 85.4L343.8 83.9L345.1 82.7L343.6 81.4L342.1 79.8L341.5 78.5L340.8 77.1Z"/>
<path d="M126.50 16.00V220.1M203.50 16.00V220.1M280.50 16.00V220.1M357.50 16.00V220.1M434.50 16.00V220.1M49.50 29.50H511.50M49.50 56.50H511.50M49.50 83.50H511.50M49.50 110.50H511.50M49.50 137.50H511.50M49.50 164.50H511.50M49.50 191.50H511.50M49.50 218.50H511.50" stroke="#000000" stroke-width="1" fill="none" opacity="0.045"/>
</g>
<g stroke="#1a1a1a" stroke-width="0.45" stroke-linejoin="round"><path d="M180.00 107.20L180.00 95.92A10.74 11.28 0 0 1 190.48 109.71Z" fill="#c23b27"/><path d="M180.00 107.20L190.48 109.71A10.74 11.28 0 0 1 184.66 117.36Z" fill="#dc6b5e"/><path d="M180.00 107.20L184.66 117.36A10.74 11.28 0 0 1 169.52 109.71Z" fill="#e4900c"/><path d="M180.00 107.20L169.52 109.71A10.74 11.28 0 0 1 171.60 100.17Z" fill="#8e8f34"/><path d="M180.00 107.20L171.60 100.17A10.74 11.28 0 0 1 180.00 95.92Z" fill="#4f4896"/></g>
<g stroke="#1a1a1a" stroke-width="0.45" stroke-linejoin="round"><path d="M302.80 134.30L302.80 114.96A18.42 19.34 0 0 1 318.75 143.97Z" fill="#c23b27"/><path d="M302.80 134.30L318.75 143.97A18.42 19.34 0 0 1 312.01 151.05Z" fill="#e4900c"/><path d="M302.80 134.30L312.01 151.05A18.42 19.34 0 0 1 302.80 153.64Z" fill="#8e8f34"/><path d="M302.80 134.30L302.80 153.64A18.42 19.34 0 0 1 293.59 151.05Z" fill="#4f4896"/><path d="M302.80 134.30L293.59 151.05A18.42 19.34 0 0 1 293.59 117.55Z" fill="#a398d2"/><path d="M302.80 134.30L293.59 117.55A18.42 19.34 0 0 1 302.80 114.96Z" fill="#b47ca4"/></g>
<g stroke="#1a1a1a" stroke-width="0.45" stroke-linejoin="round"><path d="M330.40 101.80L330.40 84.07A16.88 17.73 0 0 1 343.16 113.41Z" fill="#c23b27"/><path d="M330.40 101.80L343.16 113.41A16.88 17.73 0 0 1 335.16 118.81Z" fill="#e4900c"/><path d="M330.40 101.80L335.16 118.81A16.88 17.73 0 0 1 325.64 118.81Z" fill="#8e8f34"/><path d="M330.40 101.80L325.64 118.81A16.88 17.73 0 0 1 317.64 113.41Z" fill="#4f4896"/><path d="M330.40 101.80L317.64 113.41A16.88 17.73 0 0 1 330.40 84.07Z" fill="#a398d2"/></g>
<g stroke="#1a1a1a" stroke-width="0.45" stroke-linejoin="round"><path d="M361.40 48.40L361.40 25.84A21.49 22.56 0 1 1 352.08 68.73Z" fill="#c23b27"/><path d="M361.40 48.40L352.08 68.73A21.49 22.56 0 0 1 344.60 62.47Z" fill="#ee9a92"/><path d="M361.40 48.40L344.60 62.47A21.49 22.56 0 0 1 340.45 53.42Z" fill="#e4900c"/><path d="M361.40 48.40L340.45 53.42A21.49 22.56 0 0 1 340.45 43.38Z" fill="#8e8f34"/><path d="M361.40 48.40L340.45 43.38A21.49 22.56 0 0 1 344.60 34.33Z" fill="#17124f"/><path d="M361.40 48.40L344.60 34.33A21.49 22.56 0 0 1 352.08 28.07Z" fill="#4f4896"/><path d="M361.40 48.40L352.08 28.07A21.49 22.56 0 0 1 361.40 25.84Z" fill="#a398d2"/></g>
<g stroke="#1a1a1a" stroke-width="0.45" stroke-linejoin="round"><path d="M384.35 107.00L384.35 94.11A12.28 12.89 0 0 1 393.03 116.12Z" fill="#c23b27"/><path d="M384.35 107.00L393.03 116.12A12.28 12.89 0 0 1 384.35 119.89Z" fill="#e4900c"/><path d="M384.35 107.00L384.35 119.89A12.28 12.89 0 0 1 375.67 116.12Z" fill="#8e8f34"/><path d="M384.35 107.00L375.67 116.12A12.28 12.89 0 0 1 372.07 107.00Z" fill="#4f4896"/><path d="M384.35 107.00L372.07 107.00A12.28 12.89 0 0 1 384.35 94.11Z" fill="#a398d2"/></g>
<g stroke="#1a1a1a" stroke-width="0.45" stroke-linejoin="round"><path d="M458.00 122.60L458.00 101.65A19.95 20.95 0 0 1 476.66 130.03Z" fill="#c23b27"/><path d="M458.00 122.60L476.66 130.03A19.95 20.95 0 0 1 462.78 142.94Z" fill="#dc6b5e"/><path d="M458.00 122.60L462.78 142.94A19.95 20.95 0 0 1 453.22 142.94Z" fill="#e4900c"/><path d="M458.00 122.60L453.22 142.94A19.95 20.95 0 0 1 444.77 138.28Z" fill="#f1b237"/><path d="M458.00 122.60L444.77 138.28A19.95 20.95 0 0 1 439.34 130.03Z" fill="#8e8f34"/><path d="M458.00 122.60L439.34 130.03A19.95 20.95 0 0 1 438.19 120.07Z" fill="#17124f"/><path d="M458.00 122.60L438.19 120.07A19.95 20.95 0 0 1 441.58 110.70Z" fill="#4f4896"/><path d="M458.00 122.60L441.58 110.70A19.95 20.95 0 0 1 458.00 101.65Z" fill="#a398d2"/></g>
<rect x="26.5" y="6.0" width="508.0" height="214.1" fill="none" stroke="#7a7a7a" stroke-width="0.9"/>
<path d="M126.50 220.1v3.6M203.50 220.1v3.6M280.50 220.1v3.6M357.50 220.1v3.6M434.50 220.1v3.6" stroke="#333" stroke-width="0.7" fill="none"/>
<text x="126.5" y="234.8" font-size="8.3" text-anchor="middle" fill="#111">120° W</text>
<text x="203.5" y="234.8" font-size="8.3" text-anchor="middle" fill="#111">60° W</text>
<text x="280.5" y="234.8" font-size="8.3" text-anchor="middle" fill="#111">0°</text>
<text x="357.5" y="234.8" font-size="8.3" text-anchor="middle" fill="#111">60° E</text>
<text x="434.5" y="234.8" font-size="8.3" text-anchor="middle" fill="#111">120° E</text>
<text transform="translate(0 7.2) scale(1.13 1)" font-size="11" font-weight="bold" fill="#000" stroke="#000" stroke-width="0.4">a</text>
<text transform="translate(0 261.6) scale(1.13 1)" font-size="11" font-weight="bold" fill="#000" stroke="#000" stroke-width="0.4">b</text>
<text transform="translate(201.6 261.6) scale(1.13 1)" font-size="11" font-weight="bold" fill="#000" stroke="#000" stroke-width="0.4">c</text>
<text transform="translate(326.3 261.6) scale(1.13 1)" font-size="11" font-weight="bold" fill="#000" stroke="#000" stroke-width="0.4">d</text>
<text transform="translate(486 261.6) scale(1.13 1)" font-size="11" font-weight="bold" fill="#000" stroke="#000" stroke-width="0.4">e</text>
<text x="544.6" y="94.8" font-size="8.5" letter-spacing="0.27" fill="#111" stroke="#111" stroke-width="0.1">Health impact</text>
<rect x="544.7" y="99.20" width="7.8" height="7.8" fill="#c23b27" stroke="#777" stroke-width="0.5"/>
<text x="556.7" y="106.10" font-size="8.5" letter-spacing="0.27" fill="#111" stroke="#111" stroke-width="0.1">Heat-related deaths</text>
<rect x="544.7" y="111.24" width="7.8" height="7.8" fill="#dc6b5e" stroke="#777" stroke-width="0.5"/>
<text x="556.7" y="118.14" font-size="8.5" letter-spacing="0.27" fill="#111" stroke="#111" stroke-width="0.1">Heat-related morbidity</text>
<rect x="544.7" y="123.28" width="7.8" height="7.8" fill="#ee9a92" stroke="#777" stroke-width="0.5"/>
<text x="556.7" y="130.18" font-size="8.5" letter-spacing="0.27" fill="#111" stroke="#111" stroke-width="0.1">Cold-related deaths</text>
<rect x="544.7" y="135.32" width="7.8" height="7.8" fill="#e4900c" stroke="#777" stroke-width="0.5"/>
<text x="556.7" y="142.22" font-size="8.5" letter-spacing="0.27" fill="#111" stroke="#111" stroke-width="0.1">Extreme weather-related deaths</text>
<rect x="544.7" y="147.36" width="7.8" height="7.8" fill="#f1b237" stroke="#777" stroke-width="0.5"/>
<text x="556.7" y="154.26" font-size="8.5" letter-spacing="0.27" fill="#111" stroke="#111" stroke-width="0.1">Injury</text>
<rect x="544.7" y="159.40" width="7.8" height="7.8" fill="#8e8f34" stroke="#777" stroke-width="0.5"/>
<text x="556.7" y="166.30" font-size="8.5" letter-spacing="0.27" fill="#111" stroke="#111" stroke-width="0.1">Infectious diseases</text>
<rect x="544.7" y="171.44" width="7.8" height="7.8" fill="#17124f" stroke="#777" stroke-width="0.5"/>
<text x="556.7" y="178.34" font-size="8.5" letter-spacing="0.27" fill="#111" stroke="#111" stroke-width="0.1">Non-communicable diseases</text>
<rect x="544.7" y="183.48" width="7.8" height="7.8" fill="#4f4896" stroke="#777" stroke-width="0.5"/>
<text x="556.7" y="190.38" font-size="8.5" letter-spacing="0.27" fill="#111" stroke="#111" stroke-width="0.1">Air pollution-related deaths</text>
<rect x="544.7" y="195.52" width="7.8" height="7.8" fill="#a398d2" stroke="#777" stroke-width="0.5"/>
<text x="556.7" y="202.42" font-size="8.5" letter-spacing="0.27" fill="#111" stroke="#111" stroke-width="0.1">Maternal and child health</text>
<rect x="544.7" y="207.56" width="7.8" height="7.8" fill="#b47ca4" stroke="#777" stroke-width="0.5"/>
<text x="556.7" y="214.46" font-size="8.5" letter-spacing="0.27" fill="#111" stroke="#111" stroke-width="0.1">Migration and displacement</text>
<path d="M36.6 262.5V360.6H190.9" stroke="#b8b8b8" stroke-width="1" fill="none"/>
<path d="M32.40 356.30h4.2M32.40 337.80h4.2M32.40 319.30h4.2M32.40 300.80h4.2M32.40 282.30h4.2M32.40 263.80h4.2M50.10 360.6v4M81.84 360.6v4M113.58 360.6v4M145.32 360.6v4M177.06 360.6v4" stroke="#444" stroke-width="0.7" fill="none"/>
<text x="28.90" y="359.15" font-size="7.8" letter-spacing="-0.3" text-anchor="end" fill="#222">0</text>
<text x="28.90" y="340.65" font-size="7.8" letter-spacing="-0.3" text-anchor="end" fill="#222">2.5</text>
<text x="28.90" y="322.15" font-size="7.8" letter-spacing="-0.3" text-anchor="end" fill="#222">5.0</text>
<text x="28.90" y="303.65" font-size="7.8" letter-spacing="-0.3" text-anchor="end" fill="#222">7.5</text>
<text x="28.90" y="285.15" font-size="7.8" letter-spacing="-0.3" text-anchor="end" fill="#222">10.0</text>
<text x="28.90" y="266.65" font-size="7.8" letter-spacing="-0.3" text-anchor="end" fill="#222">12.5</text>
<text transform="translate(53.70 372.20) rotate(-45)"  font-size="8.6" letter-spacing="0" stroke="#111" stroke-width="0.12" text-anchor="end" fill="#111">2016</text>
<text transform="translate(85.44 372.20) rotate(-45)"  font-size="8.6" letter-spacing="0" stroke="#111" stroke-width="0.12" text-anchor="end" fill="#111">2018</text>
<text transform="translate(117.18 372.20) rotate(-45)"  font-size="8.6" letter-spacing="0" stroke="#111" stroke-width="0.12" text-anchor="end" fill="#111">2020</text>
<text transform="translate(148.92 372.20) rotate(-45)"  font-size="8.6" letter-spacing="0" stroke="#111" stroke-width="0.12" text-anchor="end" fill="#111">2022</text>
<text transform="translate(180.66 372.20) rotate(-45)"  font-size="8.6" letter-spacing="0" stroke="#111" stroke-width="0.12" text-anchor="end" fill="#111">2024</text>
<rect x="42.95" y="348.90" width="14.30" height="7.40" fill="#c23b27"/>
<rect x="106.43" y="348.90" width="14.30" height="7.40" fill="#e4900c"/>
<rect x="122.30" y="348.90" width="14.30" height="7.40" fill="#c23b27"/>
<rect x="138.17" y="341.50" width="14.30" height="14.80" fill="#a398d2"/>
<rect x="138.17" y="334.10" width="14.30" height="7.40" fill="#17124f"/>
<rect x="138.17" y="319.30" width="14.30" height="14.80" fill="#dc6b5e"/>
<rect x="138.17" y="297.10" width="14.30" height="22.20" fill="#c23b27"/>
<rect x="154.04" y="348.90" width="14.30" height="7.40" fill="#b47ca4"/>
<rect x="154.04" y="341.50" width="14.30" height="7.40" fill="#a398d2"/>
<rect x="154.04" y="334.10" width="14.30" height="7.40" fill="#8e8f34"/>
<rect x="154.04" y="326.70" width="14.30" height="7.40" fill="#e4900c"/>
<rect x="154.04" y="311.90" width="14.30" height="14.80" fill="#c23b27"/>
<rect x="169.91" y="341.50" width="14.30" height="14.80" fill="#a398d2"/>
<rect x="169.91" y="334.10" width="14.30" height="7.40" fill="#4f4896"/>
<rect x="169.91" y="326.70" width="14.30" height="7.40" fill="#17124f"/>
<rect x="169.91" y="311.90" width="14.30" height="14.80" fill="#8e8f34"/>
<rect x="169.91" y="304.50" width="14.30" height="7.40" fill="#f1b237"/>
<rect x="169.91" y="297.10" width="14.30" height="7.40" fill="#ee9a92"/>
<rect x="169.91" y="289.70" width="14.30" height="7.40" fill="#dc6b5e"/>
<rect x="169.91" y="267.50" width="14.30" height="22.20" fill="#c23b27"/>
<text transform="translate(7.6 312) rotate(-90)" font-size="8.5" letter-spacing="0.38" text-anchor="middle" fill="#111" stroke="#111" stroke-width="0.12">Study topic</text>
<path d="M228.0 262.5V360.6H312.9" stroke="#b8b8b8" stroke-width="1" fill="none"/>
<path d="M223.80 356.40h4.2M223.80 331.98h4.2M223.80 307.56h4.2M223.80 283.14h4.2M237.10 360.6v4M253.60 360.6v4M270.10 360.6v4M286.60 360.6v4M303.25 360.6v4" stroke="#444" stroke-width="0.7" fill="none"/>
<text x="220.30" y="359.25" font-size="7.8" letter-spacing="-0.3" text-anchor="end" fill="#222">0</text>
<text x="220.30" y="334.83" font-size="7.8" letter-spacing="-0.3" text-anchor="end" fill="#222">3</text>
<text x="220.30" y="310.41" font-size="7.8" letter-spacing="-0.3" text-anchor="end" fill="#222">6</text>
<text x="220.30" y="285.99" font-size="7.8" letter-spacing="-0.3" text-anchor="end" fill="#222">9</text>
<text transform="translate(240.70 372.20) rotate(-45)"  font-size="8.6" letter-spacing="0.32" stroke="#111" stroke-width="0.12" text-anchor="end" fill="#111">Mortality</text>
<text transform="translate(257.20 372.20) rotate(-45)"  font-size="8.6" letter-spacing="0.32" stroke="#111" stroke-width="0.12" text-anchor="end" fill="#111">Incidence</text>
<text transform="translate(273.70 372.20) rotate(-45)"  font-size="8.6" letter-spacing="0.32" stroke="#111" stroke-width="0.12" text-anchor="end" fill="#111">Population affected/at risk</text>
<text transform="translate(290.20 372.20) rotate(-45)"  font-size="8.6" letter-spacing="0.32" stroke="#111" stroke-width="0.12" text-anchor="end" fill="#111">Prevalence</text>
<text transform="translate(306.85 372.20) rotate(-45)"  font-size="8.6" letter-spacing="0.32" stroke="#111" stroke-width="0.12" text-anchor="end" fill="#111">Life-years</text>
<rect x="229.70" y="266.86" width="14.80" height="89.54" fill="#000"/>
<rect x="246.20" y="323.84" width="14.80" height="32.56" fill="#000"/>
<rect x="262.70" y="340.12" width="14.80" height="16.28" fill="#000"/>
<rect x="279.20" y="340.12" width="14.80" height="16.28" fill="#000"/>
<rect x="295.70" y="348.26" width="15.10" height="8.14" fill="#000"/>
<text transform="translate(208.6 312) rotate(-90)" font-size="8.5" letter-spacing="0.38" text-anchor="middle" fill="#111" stroke="#111" stroke-width="0.12">Health variable</text>
<path d="M353.7 262.5V360.6H473.5" stroke="#b8b8b8" stroke-width="1" fill="none"/>
<path d="M349.50 356.50h4.2M349.50 330.10h4.2M349.50 303.70h4.2M349.50 277.30h4.2M363.05 360.6v4M379.90 360.6v4M396.75 360.6v4M413.65 360.6v4M430.50 360.6v4M447.35 360.6v4M464.20 360.6v4" stroke="#444" stroke-width="0.7" fill="none"/>
<text x="346.00" y="359.35" font-size="7.8" letter-spacing="-0.3" text-anchor="end" fill="#222">0</text>
<text x="346.00" y="332.95" font-size="7.8" letter-spacing="-0.3" text-anchor="end" fill="#222">5</text>
<text x="346.00" y="306.55" font-size="7.8" letter-spacing="-0.3" text-anchor="end" fill="#222">10</text>
<text x="346.00" y="280.15" font-size="7.8" letter-spacing="-0.3" text-anchor="end" fill="#222">15</text>
<text transform="translate(366.65 372.20) rotate(-45)"  font-size="8.6" letter-spacing="0.32" stroke="#111" stroke-width="0.12" text-anchor="end" fill="#111">Temperature</text>
<text transform="translate(383.50 372.20) rotate(-45)"  font-size="8.6" letter-spacing="0.32" stroke="#111" stroke-width="0.12" text-anchor="end" fill="#111">Precipitation</text>
<text transform="translate(400.35 372.20) rotate(-45)"  font-size="8.6" letter-spacing="0.32" stroke="#111" stroke-width="0.12" text-anchor="end" fill="#111">Floods</text>
<text transform="translate(417.25 372.20) rotate(-45)"  font-size="8.6" letter-spacing="0.32" stroke="#111" stroke-width="0.12" text-anchor="end" fill="#111">Storms</text>
<text transform="translate(434.10 372.20) rotate(-45)"  font-size="8.6" letter-spacing="0.32" stroke="#111" stroke-width="0.12" text-anchor="end" fill="#111">Droughts</text>
<text transform="translate(450.95 372.20) rotate(-45)"  font-size="8.6" letter-spacing="0.32" stroke="#111" stroke-width="0.12" text-anchor="end" fill="#111">Wildfires</text>
<text transform="translate(467.80 372.20) rotate(-45)"  font-size="8.6" letter-spacing="0.32" stroke="#111" stroke-width="0.12" text-anchor="end" fill="#111">Air pollution</text>
<rect x="355.50" y="266.74" width="15.10" height="89.76" fill="#000"/>
<rect x="372.40" y="335.38" width="15.00" height="21.12" fill="#000"/>
<rect x="389.20" y="340.66" width="15.10" height="15.84" fill="#000"/>
<rect x="406.10" y="340.66" width="15.10" height="15.84" fill="#000"/>
<rect x="423.00" y="345.94" width="15.00" height="10.56" fill="#000"/>
<rect x="439.80" y="345.94" width="15.10" height="10.56" fill="#000"/>
<rect x="456.70" y="351.22" width="15.00" height="5.28" fill="#000"/>
<text transform="translate(331.5 312) rotate(-90)" font-size="8.5" letter-spacing="0.38" text-anchor="middle" fill="#111" stroke="#111" stroke-width="0.12">Climate variable</text>
<path d="M514.7 262.5V360.6H548.9" stroke="#b8b8b8" stroke-width="1" fill="none"/>
<path d="M510.50 356.10h4.2M510.50 324.15h4.2M510.50 292.20h4.2M524.05 360.6v4M539.85 360.6v4" stroke="#444" stroke-width="0.7" fill="none"/>
<text x="507.00" y="358.95" font-size="7.8" letter-spacing="-0.3" text-anchor="end" fill="#222">0</text>
<text x="507.00" y="327.00" font-size="7.8" letter-spacing="-0.3" text-anchor="end" fill="#222">5</text>
<text x="507.00" y="295.05" font-size="7.8" letter-spacing="-0.3" text-anchor="end" fill="#222">10</text>
<text transform="translate(527.65 372.20) rotate(-45)"  font-size="8.6" letter-spacing="0.32" stroke="#111" stroke-width="0.12" text-anchor="end" fill="#111">Trend</text>
<text transform="translate(543.45 372.20) rotate(-45)"  font-size="8.6" letter-spacing="0.32" stroke="#111" stroke-width="0.12" text-anchor="end" fill="#111">Event</text>
<rect x="517.00" y="266.64" width="14.10" height="89.46" fill="#000"/>
<rect x="532.80" y="304.98" width="14.10" height="51.12" fill="#000"/>
<text transform="translate(493.6 312) rotate(-90)" font-size="8.5" letter-spacing="0.38" text-anchor="middle" fill="#111" stroke="#111" stroke-width="0.12">Study timescale</text>
</svg>
</body></html>
